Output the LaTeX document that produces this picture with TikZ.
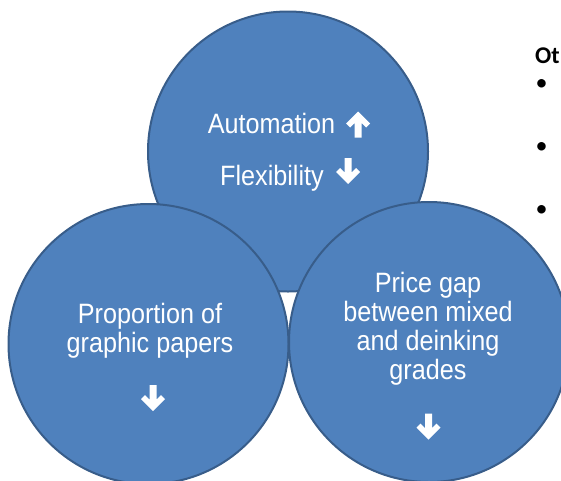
\documentclass[tikz,border=0pt]{standalone}
\usepackage{fontspec}
\newfontfamily\narrowsans[FakeStretch=0.9]{Liberation Sans}
\newfontfamily\notefont{Carlito}
\definecolor{bubblefill}{HTML}{4F81BD}
\definecolor{bubbleline}{HTML}{385D8A}
\begin{document}
\begin{tikzpicture}[x={(1pt,0)},y={(0,-1pt)},
    bubble/.style={circle,draw=bubbleline,fill=bubblefill,line width=2pt,minimum size=280pt,inner sep=0pt},
    bubbletext/.style={text=white,font=\narrowsans\fontsize{28}{28.7}\selectfont,align=center,inner sep=0pt,anchor=base},
    notetext/.style={font=\notefont\fontsize{24}{28}\selectfont,inner sep=0pt,anchor=base west},
    fatarrow/.pic={\fill[white] (-3.5,-13) -- (3.5,-13) -- (3.5,1.5) -- (8,-3) -- (12,1) -- (0,13)
        -- (-12,1) -- (-8,-3) -- (-3.5,1.5) -- cycle;}]
    \clip (0,0) rectangle (561,480);
    \node[bubble] (top) at (288,151.5) {};
    \node[bubble] (left) at (148.5,344) {};
    \node[bubble] (right) at (429,342) {};
    \node[bubbletext] (auto) at (271.5,133) {Automation};
    \node[bubbletext] (flex) at (272,185) {Flexibility};
    \pic[yscale=-1] at (358,124.5) {fatarrow};
    \pic at (348,171) {fatarrow};
    \node[bubbletext] (share) at (150,352) {Proportion of\\graphic papers};
    \pic at (153,398) {fatarrow};
    \node[bubbletext] (gap) at (428,379) {Price gap\\between mixed\\and deinking\\grades};
    \pic at (428.5,426.5) {fatarrow};
    \node[notetext] (other) at (535,63) {\bfseries Ot};
    \node[notetext] (b1) at (535.5,90) {•};
    \node[notetext] (b2) at (535.5,153) {•};
    \node[notetext] (b3) at (535.5,216) {•};
\end{tikzpicture}
\end{document}
